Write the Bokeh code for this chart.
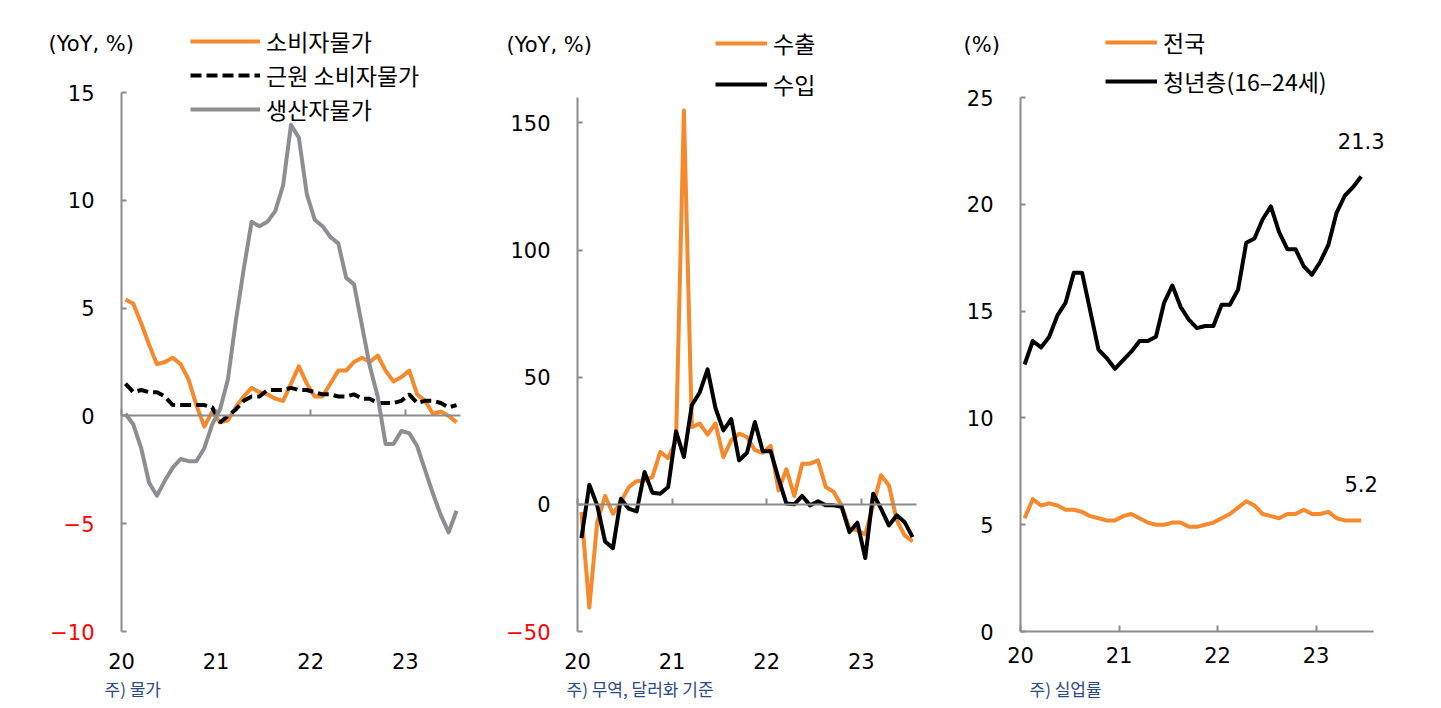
from bokeh.plotting import figure
from bokeh.models import (Range1d, LinearAxis, FixedTicker, Legend, LegendItem, Label)
from bokeh.layouts import row
from bokeh.embed import file_html
from bokeh.resources import INLINE

FONT = "Noto Sans CJK KR"
NUM_FONT = "DejaVu Sans"
ORANGE = "#F5892B"
GRAY = "#8C8E91"
AXIS = "#8C8C8C"
NAVY = "#2C4A84"
H = 705
LW = 4

# ---------------- data ----------------
year_ticks = [0, 12, 24, 36]
year_labels = ["20", "21", "22", "23"]
x_end = 43

# Panel 1: prices (YoY, %), Jan 2020 - Jul 2023
cpi = [5.4, 5.2, 4.3, 3.3, 2.4, 2.5, 2.7, 2.4, 1.7, 0.5, -0.5, 0.2,
       -0.3, -0.2, 0.4, 0.9, 1.3, 1.1, 1.0, 0.8, 0.7, 1.5, 2.3, 1.5,
       0.9, 0.9, 1.5, 2.1, 2.1, 2.5, 2.7, 2.5, 2.8, 2.1, 1.6, 1.8,
       2.1, 1.0, 0.7, 0.1, 0.2, 0.0, -0.3]
core_cpi = [1.5, 1.1, 1.2, 1.1, 1.1, 0.9, 0.5, 0.5, 0.5, 0.5, 0.5, 0.4,
            -0.3, 0.0, 0.3, 0.7, 0.9, 0.9, 1.2, 1.2, 1.2, 1.3, 1.2, 1.2,
            1.1, 1.0, 1.0, 0.9, 0.9, 1.0, 0.8, 0.8, 0.6, 0.6, 0.6, 0.7,
            1.0, 0.6, 0.7, 0.7, 0.6, 0.4, 0.5]
ppi = [0.1, -0.4, -1.5, -3.1, -3.7, -3.0, -2.4, -2.0, -2.1, -2.1, -1.5, -0.4,
       0.3, 1.7, 4.4, 6.8, 9.0, 8.8, 9.0, 9.5, 10.7, 13.5, 12.9, 10.3,
       9.1, 8.8, 8.3, 8.0, 6.4, 6.1, 4.2, 2.3, 0.9, -1.3, -1.3, -0.7,
       -0.8, -1.4, -2.5, -3.6, -4.6, -5.4, -4.4]
p1_yticks = [-10, -5, 0, 5, 10, 15]

# Panel 2: trade (YoY, %), Jan 2020 - Jul 2023
exports = [-3.0, -40.6, -7.0, 3.3, -3.7, 0.9, 6.8, 9.1, 9.4, 10.8, 20.6, 18.2,
           25.0, 154.9, 30.4, 31.8, 27.4, 31.8, 18.6, 25.2, 27.8, 26.5, 21.3, 20.3,
           23.0, 5.5, 13.8, 3.3, 16.0, 16.0, 17.3, 6.8, 4.9, -0.4, -9.6, -10.2,
           -11.9, -0.4, 11.4, 7.5, -6.3, -12.2, -14.6]
imports = [-13.3, 7.7, -0.4, -14.6, -17.2, 2.2, -1.7, -2.8, 12.7, 4.6, 4.2, 6.8,
           28.7, 18.6, 39.0, 44.0, 53.1, 37.9, 29.1, 33.5, 17.3, 20.3, 32.4, 20.9,
           20.9, 10.1, 0.3, 0.0, 3.3, -0.4, 1.2, -0.4, -0.4, -1.0, -10.9, -7.2,
           -21.1, 4.2, -1.7, -8.3, -4.3, -7.0, -12.9]
p2_yticks = [-50, 0, 50, 100, 150]
p2_ytop = 160

# Panel 3: unemployment rate (%), Jan 2020 - Jun 2023
unemp_total = [5.3, 6.2, 5.9, 6.0, 5.9, 5.7, 5.7, 5.6, 5.4, 5.3, 5.2, 5.2,
               5.4, 5.5, 5.3, 5.1, 5.0, 5.0, 5.1, 5.1, 4.9, 4.9, 5.0, 5.1,
               5.3, 5.5, 5.8, 6.1, 5.9, 5.5, 5.4, 5.3, 5.5, 5.5, 5.7, 5.5,
               5.5, 5.6, 5.3, 5.2, 5.2, 5.2]
unemp_youth = [12.5, 13.6, 13.3, 13.8, 14.8, 15.4, 16.8, 16.8, 15.0, 13.2, 12.8, 12.3,
               12.7, 13.1, 13.6, 13.6, 13.8, 15.4, 16.2, 15.2, 14.6, 14.2, 14.3, 14.3,
               15.3, 15.3, 16.0, 18.2, 18.4, 19.3, 19.9, 18.7, 17.9, 17.9, 17.1, 16.7,
               17.3, 18.1, 19.6, 20.4, 20.8, 21.3]
p3_yticks = [0, 5, 10, 15, 20, 25]


def months(n):
    return [i + 0.5 for i in range(n)]


def make_fig(width, ax_left, ax_right, ax_top, ax_bottom, y0, y1):
    """Whole canvas is the frame; ranges chosen so that data x 0..x_end maps to
    pixels ax_left..ax_right and y0..y1 maps to ax_bottom..ax_top."""
    sx = (ax_right - ax_left) / x_end
    sy = (ax_bottom - ax_top) / (y1 - y0)
    xr = Range1d(-ax_left / sx, (width - ax_left) / sx)
    yr = Range1d(y0 - (H - ax_bottom) / sy, y1 + ax_top / sy)
    p = figure(width=width, height=H, x_range=xr, y_range=yr,
               output_backend="svg", toolbar_location=None,
               min_border=0, x_axis_location=None, y_axis_location=None)
    p.outline_line_color = None
    p.xgrid.visible = False
    p.ygrid.visible = False
    p.background_fill_color = "white"
    p.border_fill_color = "white"
    return p


def y_axis(p, yticks, y0, y1):
    overrides = {t: ("" if t < 0 else str(t)) for t in yticks}
    yax = LinearAxis(fixed_location=0, bounds=(y0, y1),
                     ticker=FixedTicker(ticks=yticks), major_label_overrides=overrides,
                     axis_line_color=AXIS, axis_line_width=2,
                     major_tick_in=5, major_tick_out=0, major_tick_line_color=AXIS,
                     major_tick_line_width=2, minor_tick_line_color=None,
                     major_label_standoff=27, major_label_text_font=NUM_FONT,
                     major_label_text_font_size="21px", major_label_text_color="black")
    p.add_layout(yax, "left")
    for t in yticks:
        if t < 0:
            p.add_layout(Label(x=0, y=t, x_offset=-27, text="\u2212" + str(-t),
                               text_align="right", text_baseline="middle",
                               text_color="#FF0000", text_font=NUM_FONT,
                               text_font_size="21px"))


def x_axes(p, y_bottom, zero_line):
    lab = LinearAxis(fixed_location=y_bottom, bounds=(0, x_end),
                     ticker=FixedTicker(ticks=year_ticks),
                     major_label_overrides=dict(zip(year_ticks, year_labels)),
                     major_label_standoff=15, major_label_text_font=NUM_FONT,
                     major_label_text_font_size="21px", major_label_text_color="black",
                     minor_tick_line_color=None)
    if zero_line:
        lab.axis_line_color = None
        lab.major_tick_line_color = None
        p.add_layout(lab, "below")
        zero = LinearAxis(fixed_location=0, bounds=(0, x_end),
                          ticker=FixedTicker(ticks=year_ticks),
                          major_label_overrides={t: "" for t in year_ticks},
                          axis_line_color=AXIS, axis_line_width=2,
                          major_tick_in=6, major_tick_out=0, major_tick_line_color=AXIS,
                          major_tick_line_width=2, minor_tick_line_color=None,
                          major_label_text_font_size="1px")
        p.add_layout(zero, "below")
    else:
        lab.axis_line_color = AXIS
        lab.axis_line_width = 2
        lab.major_tick_in = 6
        lab.major_tick_out = 0
        lab.major_tick_line_color = AXIS
        lab.major_tick_line_width = 2
        p.add_layout(lab, "below")


def add_text(p, x, y, text, dx, dy, size="21px", color="black", align="left", font=NUM_FONT):
    p.add_layout(Label(x=x, y=y, x_offset=dx, y_offset=dy, text=text, text_align=align,
                       text_baseline="middle", text_color=color, text_font=font,
                       text_font_size=size))


def add_legend(p, items, loc, glyph_w, spacing):
    lg = Legend(items=items, location=loc, glyph_width=glyph_w, glyph_height=22,
                label_standoff=6, spacing=spacing, padding=0, margin=0,
                background_fill_alpha=0, border_line_color=None,
                label_text_font=FONT, label_text_font_size="23px",
                label_text_color="black")
    p.add_layout(lg, "center")


# legend location: (x from canvas left, y of legend bottom from canvas bottom)
# ---------------- panel 1 ----------------
x1 = months(len(cpi))
p1 = make_fig(476, 121, 460, 92, 631, p1_yticks[0], p1_yticks[-1])
y_axis(p1, p1_yticks, p1_yticks[0], p1_yticks[-1])
x_axes(p1, p1_yticks[0], True)
r_cpi = p1.line(x1, cpi, line_color=ORANGE, line_width=LW, line_join="round")
r_core = p1.line(x1, core_cpi, line_color="black", line_width=LW, line_dash="11 5")
r_ppi = p1.line(x1, ppi, line_color=GRAY, line_width=LW, line_join="round")
add_legend(p1, [LegendItem(label="소비자물가", renderers=[r_cpi]),
                LegendItem(label="근원 소비자물가", renderers=[r_core]),
                LegendItem(label="생산자물가", renderers=[r_ppi])], (190, H - 126), 70, 0)
add_text(p1, 0, p1_yticks[-1], "(YoY, %)", -73, 49)
add_text(p1, 0, p1_yticks[0], "주) 물가", -17, -57, size="17px", color=NAVY, font=FONT)

# ---------------- panel 2 ----------------
x2 = months(len(exports))
p2 = make_fig(480, 101, 440, 97, 631, p2_yticks[0], p2_ytop)
y_axis(p2, p2_yticks, p2_yticks[0], p2_ytop)
x_axes(p2, p2_yticks[0], True)
r_ex = p2.line(x2, exports, line_color=ORANGE, line_width=LW, line_join="round")
r_im = p2.line(x2, imports, line_color="black", line_width=LW, line_join="round")
add_legend(p2, [LegendItem(label="수출", renderers=[r_ex]),
                LegendItem(label="수입", renderers=[r_im])], (239, H - 101), 52, 7)
add_text(p2, 0, p2_ytop, "(YoY, %)", -71, 53)
add_text(p2, 0, p2_yticks[0], "주) 무역, 달러화 기준", -11, -57, size="17px", color=NAVY, font=FONT)

# ---------------- panel 3 ----------------
x3 = months(len(unemp_total))
p3 = make_fig(475, 64, 417, 97, 631, p3_yticks[0], p3_yticks[-1])
y_axis(p3, p3_yticks, p3_yticks[0], p3_yticks[-1])
x_axes(p3, 0, False)
r_tot = p3.line(x3, unemp_total, line_color=ORANGE, line_width=LW, line_join="round")
r_yth = p3.line(x3, unemp_youth, line_color="black", line_width=LW, line_join="round")
add_legend(p3, [LegendItem(label="전국", renderers=[r_tot]),
                LegendItem(label="청년층(16\u201324세)", renderers=[r_yth])], (149, H - 98), 52, 5)
add_text(p3, 0, p3_yticks[-1], "(%)", -57, 53)
add_text(p3, 0, 0, "주) 실업률", 9, -57, size="17px", color=NAVY, font=FONT)
add_text(p3, x3[-1], unemp_youth[-1], f"{unemp_youth[-1]:.1f}", 0, 36, align="center")
add_text(p3, x3[-1], unemp_total[-1], f"{unemp_total[-1]:.1f}", 0, 36, align="center")

layout = row(p1, p2, p3)
open("out.html", "w").write(file_html(layout, INLINE))
